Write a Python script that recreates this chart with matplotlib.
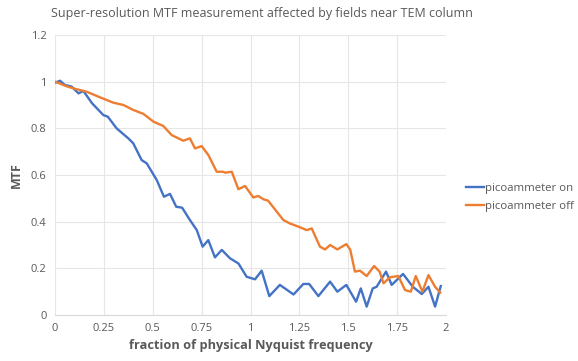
import matplotlib
matplotlib.use("Agg")
import matplotlib.pyplot as plt

# fraction of physical Nyquist frequency / MTF
x_on = [0.0, 0.026, 0.05, 0.085, 0.12, 0.145, 0.19, 0.247, 0.27, 0.315, 0.375, 0.40,
        0.443, 0.469, 0.52, 0.557, 0.588, 0.62, 0.65, 0.69, 0.725, 0.755, 0.784,
        0.818, 0.853, 0.895, 0.938, 0.98, 1.023, 1.057, 1.096, 1.15, 1.22, 1.27,
        1.30, 1.347, 1.407, 1.444, 1.49, 1.54, 1.564, 1.594, 1.625, 1.645, 1.693,
        1.722, 1.78, 1.83, 1.876, 1.91, 1.944, 1.973]
mtf_on = [0.996, 1.004, 0.986, 0.979, 0.95, 0.96, 0.907, 0.857, 0.85, 0.80, 0.757, 0.736,
          0.664, 0.65, 0.579, 0.507, 0.519, 0.464, 0.46, 0.407, 0.364, 0.293, 0.321,
          0.247, 0.279, 0.243, 0.221, 0.164, 0.153, 0.19, 0.081, 0.129, 0.088, 0.133,
          0.133, 0.081, 0.143, 0.10, 0.129, 0.057, 0.114, 0.036, 0.114, 0.121, 0.186,
          0.129, 0.176, 0.121, 0.09, 0.121, 0.036, 0.124]

x_off = [0.0, 0.06, 0.10, 0.162, 0.23, 0.298, 0.35, 0.40, 0.452, 0.503, 0.554, 0.597,
         0.656, 0.69, 0.716, 0.75, 0.784, 0.827, 0.86, 0.87, 0.904, 0.938, 0.972,
         1.014, 1.04, 1.066, 1.09, 1.134, 1.168, 1.20, 1.253, 1.287, 1.313, 1.355,
         1.381, 1.407, 1.444, 1.49, 1.51, 1.534, 1.56, 1.594, 1.632, 1.66, 1.68,
         1.714, 1.756, 1.79, 1.82, 1.845, 1.879, 1.91, 1.944, 1.97]
mtf_off = [1.0, 0.98, 0.97, 0.957, 0.933, 0.91, 0.90, 0.879, 0.862, 0.829, 0.81, 0.771,
           0.747, 0.757, 0.714, 0.724, 0.686, 0.614, 0.614, 0.61, 0.614, 0.539, 0.553,
           0.504, 0.51, 0.496, 0.49, 0.443, 0.407, 0.393, 0.376, 0.364, 0.371, 0.293,
           0.281, 0.30, 0.281, 0.304, 0.28, 0.186, 0.19, 0.167, 0.21, 0.186, 0.136,
           0.162, 0.167, 0.107, 0.10, 0.167, 0.10, 0.171, 0.121, 0.096]

x_ticks = [0, 0.25, 0.5, 0.75, 1, 1.25, 1.5, 1.75, 2]
x_tick_labels = ["0", "0.25", "0.5", "0.75", "1", "1.25", "1.5", "1.75", "2"]
y_ticks = [0, 0.2, 0.4, 0.6, 0.8, 1, 1.2]
y_tick_labels = ["0", "0.2", "0.4", "0.6", "0.8", "1", "1.2"]

plt.rcParams["font.family"] = ["Open Sans", "DejaVu Sans"]
txt = "#595959"

fig = plt.figure(figsize=(5.78, 3.61), dpi=100)
ax = fig.add_axes([0.0952, 0.1274, 0.6765, 0.7756])

ax.plot(x_on, mtf_on, color="#4472C4", lw=1.7, solid_joinstyle="round",
        label="picoammeter on")
ax.plot(x_off, mtf_off, color="#ED7D31", lw=1.7, solid_joinstyle="round",
        label="picoammeter off")

ax.set_xlim(0, 2)
ax.set_ylim(0, 1.2)
ax.set_xticks(x_ticks)
ax.set_xticklabels(x_tick_labels)
ax.set_yticks(y_ticks)
ax.set_yticklabels(y_tick_labels)
ax.tick_params(length=0, labelsize=8, labelcolor=txt, pad=6)
ax.grid(True, color="#e6e6e6", lw=0.8)
ax.set_axisbelow(True)
for s in ["top", "right", "left"]:
    ax.spines[s].set_visible(False)
ax.spines["bottom"].set_color("#d9d9d9")

ax.set_xlabel("fraction of physical Nyquist frequency", fontsize=9.2,
              fontweight="bold", color=txt, labelpad=3)
ax.set_ylabel("MTF", fontsize=9, fontweight="bold", color=txt, labelpad=6)
fig.text(0.453, 0.963, "Super-resolution MTF measurement affected by fields near TEM column",
         ha="center", va="center", fontsize=9.0, color=txt)

ax.legend(loc="center left", bbox_to_anchor=(1.025, 0.42), frameon=False,
          fontsize=8.2, labelcolor=txt, handlelength=1.6, handletextpad=0.1,
          labelspacing=0.65)

fig.savefig("out.png", dpi=100)
